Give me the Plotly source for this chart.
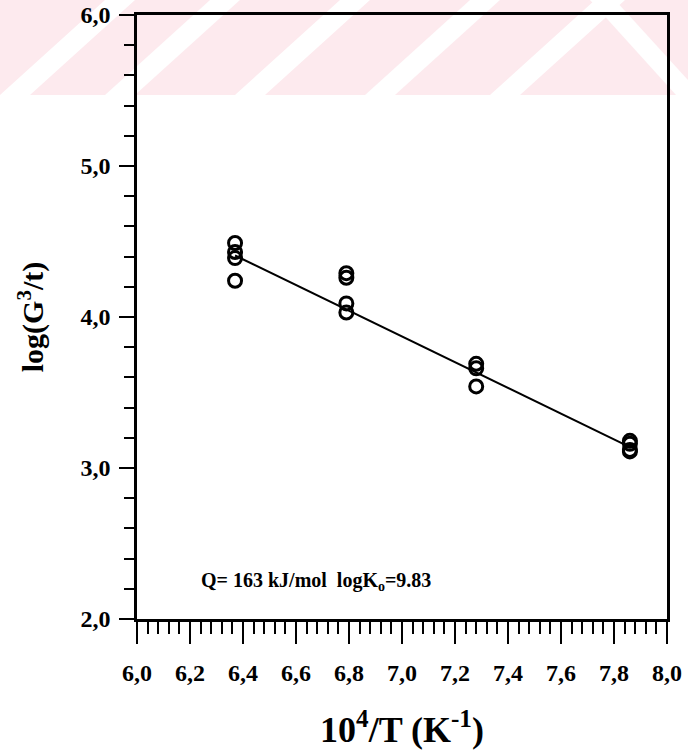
import plotly.graph_objects as go

# Measured grain-growth data: inverse temperature vs log(G^3/t)
inv_T = [6.37, 6.37, 6.37, 6.37,
         6.79, 6.79, 6.79, 6.79,
         7.28, 7.28, 7.28,
         7.86, 7.86, 7.86, 7.86]
log_G3_t = [4.49, 4.43, 4.39, 4.24,
            4.29, 4.26, 4.09, 4.03,
            3.69, 3.66, 3.54,
            3.18, 3.16, 3.12, 3.11]

# Arrhenius fit parameters
Q_kJ = 163
logK0 = 9.83
R = 8.314
fit_x = [6.37, 7.86]

x_ticks = [6.0, 6.2, 6.4, 6.6, 6.8, 7.0, 7.2, 7.4, 7.6, 7.8, 8.0]
x_tick_text = ["6,0", "6,2", "6,4", "6,6", "6,8", "7,0", "7,2", "7,4", "7,6", "7,8", "8,0"]
y_ticks = [2.0, 3.0, 4.0, 5.0, 6.0]
y_tick_text = ["2,0", "3,0", "4,0", "5,0", "6,0"]

slope = -Q_kJ * 1000 / (2.303 * R) / 1e4
fit_y = [logK0 + slope * x for x in fit_x]

FONT = "Liberation Serif"

fig = go.Figure()

fig.add_trace(go.Scatter(
    x=fit_x, y=fit_y, mode="lines",
    line=dict(color="black", width=2),
    showlegend=False, hoverinfo="skip"))

fig.add_trace(go.Scatter(
    x=inv_T, y=log_G3_t, mode="markers",
    marker=dict(symbol="circle-open", size=13, color="black",
                line=dict(color="black", width=3)),
    showlegend=False))

fig.add_annotation(
    x=6.235, y=2.25, xref="x", yref="y", xanchor="left", yanchor="middle",
    text=f"Q= {Q_kJ} kJ/mol  logK<sub>o</sub>={logK0:.2f}", showarrow=False,
    font=dict(family=FONT, size=20, color="black", weight="bold"))

# pink band with white diagonal stripes across the top of the page
W, H = 688, 752
l, r, t, b = 137, 21, 15, 133
pw, ph = W - l - r, H - t - b


def px_to_paper(px, py):
    return (px - l) / pw, 1 - (py - t) / ph


def poly(points):
    pts = [px_to_paper(x, y) for x, y in points]
    return "M " + " L ".join(f"{x:.4f},{y:.4f}" for x, y in pts) + " Z"


pink = "rgb(253,234,238)"
fig.add_shape(type="path", xref="paper", yref="paper", layer="below",
              path=poly([(0, 0), (688, 0), (688, 95), (0, 95)]),
              fillcolor=pink, line_width=0)
stripe_bottoms = [0, 105, 235, 365, 490]
for xb in stripe_bottoms:
    fig.add_shape(type="path", xref="paper", yref="paper", layer="below",
                  path=poly([(xb, 95), (xb + 30, 95), (xb + 30 + 105, 0), (xb + 105, 0)]),
                  fillcolor="white", line_width=0)
fig.add_shape(type="path", xref="paper", yref="paper", layer="below",
              path=poly([(590, 0), (615, 0), (688, 80), (688, 95), (676, 95)]),
              fillcolor="white", line_width=0)

fig.update_xaxes(
    range=[6.0, 8.0], tickvals=x_ticks, ticktext=x_tick_text,
    ticks="outside", ticklen=22, tickwidth=2, tickcolor="black",
    minor=dict(dtick=0.04, tick0=6.0, ticks="outside", ticklen=12,
               tickwidth=1.5, tickcolor="black"),
    showline=True, linewidth=2.5, linecolor="black", mirror=True,
    showgrid=False, zeroline=False, ticklabelstandoff=8, automargin=False,
    tickfont=dict(family=FONT, size=24, color="black", weight="bold"),
    title=dict(text="10<sup>4</sup>/T (K<sup>-1</sup>)", standoff=33,
               font=dict(family=FONT, size=36, color="black", weight="bold")))

fig.update_yaxes(
    range=[2.0, 6.0], tickvals=y_ticks, ticktext=y_tick_text,
    ticks="outside", ticklen=15, tickwidth=2, tickcolor="black",
    minor=dict(dtick=0.2, tick0=2.0, ticks="outside", ticklen=10,
               tickwidth=1.5, tickcolor="black"),
    showline=True, linewidth=2.5, linecolor="black", mirror=True,
    showgrid=False, zeroline=False, ticklabelstandoff=4, automargin=False,
    tickfont=dict(family=FONT, size=24, color="black", weight="bold"),
    title=dict(text="log(G<sup>3</sup>/t)", standoff=28,
               font=dict(family=FONT, size=30, color="black", weight="bold")))

fig.update_layout(
    width=W, height=H,
    margin=dict(l=l, r=r, t=t, b=b, autoexpand=False),
    paper_bgcolor="white", plot_bgcolor="rgba(0,0,0,0)",
    showlegend=False)

fig.write_html("out.html")
